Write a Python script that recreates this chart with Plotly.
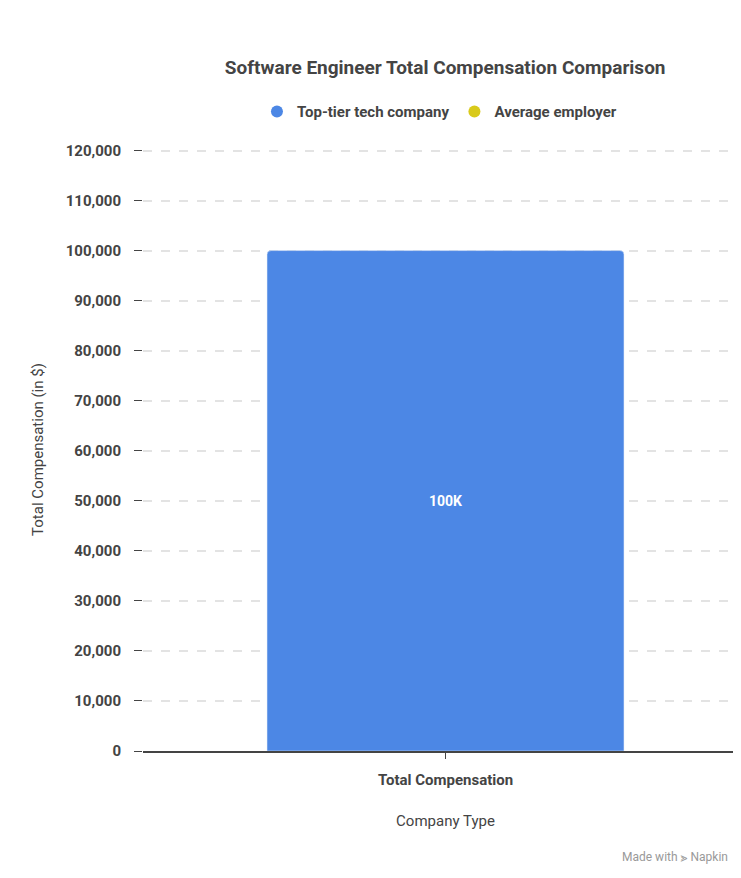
import plotly.graph_objects as go

categories = ["Total Compensation"]
top_tier = [100000]
average = [None]
bar_labels = ["<b>100K</b>"]
y_ticks = list(range(0, 120001, 10000))

blue = "#4C87E5"
yellow = "#D9CA1A"

fig = go.Figure()
fig.add_trace(go.Bar(x=categories, y=top_tier, text=bar_labels, textposition="inside",
                     insidetextanchor="middle", marker=dict(color=blue, cornerradius=4),
                     textfont=dict(color="white", size=14, family="Roboto"),
                     width=0.59, showlegend=False, hoverinfo="y"))
# legend entries as circles
fig.add_trace(go.Scatter(x=categories, y=[None], mode="markers", name="Top-tier tech company",
                         marker=dict(color=blue, size=14, symbol="circle")))
fig.add_trace(go.Scatter(x=categories, y=average, mode="markers", name="Average employer",
                         marker=dict(color=yellow, size=14, symbol="circle")))

fig.update_layout(
    width=741, height=878, plot_bgcolor="white", paper_bgcolor="white",
    margin=dict(l=135, r=1, t=140, b=135),
    font=dict(family="Roboto", color="#444"),
    title=dict(text="<b>Software Engineer Total Compensation Comparison</b>", x=0.59, xanchor="center",
               y=0.932, yanchor="middle", font=dict(size=19, color="#444")),
    legend=dict(orientation="h", x=0.49, xanchor="center", y=1.06, yanchor="middle",
                font=dict(size=15, color="#444", weight="bold"), itemsizing="constant"),
    xaxis=dict(title=dict(text="Company Type", font=dict(size=15, color="#444"), standoff=28),
               tickfont=dict(size=15, color="#444", weight="bold"), ticklabelstandoff=8,
               showline=True, linecolor="#444", linewidth=1.5, ticks="outside", ticklen=6,
               tickcolor="#444", showgrid=False),
    yaxis=dict(title=dict(text="Total Compensation (in $)", font=dict(size=15, color="#444"), standoff=18),
               range=[0, 120500], tickvals=y_ticks, tickformat=",",
               tickfont=dict(size=15, color="#444", weight="bold"), ticklabelstandoff=10,
               ticks="outside", ticklen=8, tickcolor="#444",
               showgrid=True, gridcolor="#e3e3e3", griddash="dash", gridwidth=1.5,
               zeroline=False),
    annotations=[dict(text="Made with ⪢ Napkin", xref="paper", yref="paper", x=0.97, y=-0.19,
                      showarrow=False, xanchor="right", font=dict(size=12, color="#999"))],
)
fig.write_html("out.html")
